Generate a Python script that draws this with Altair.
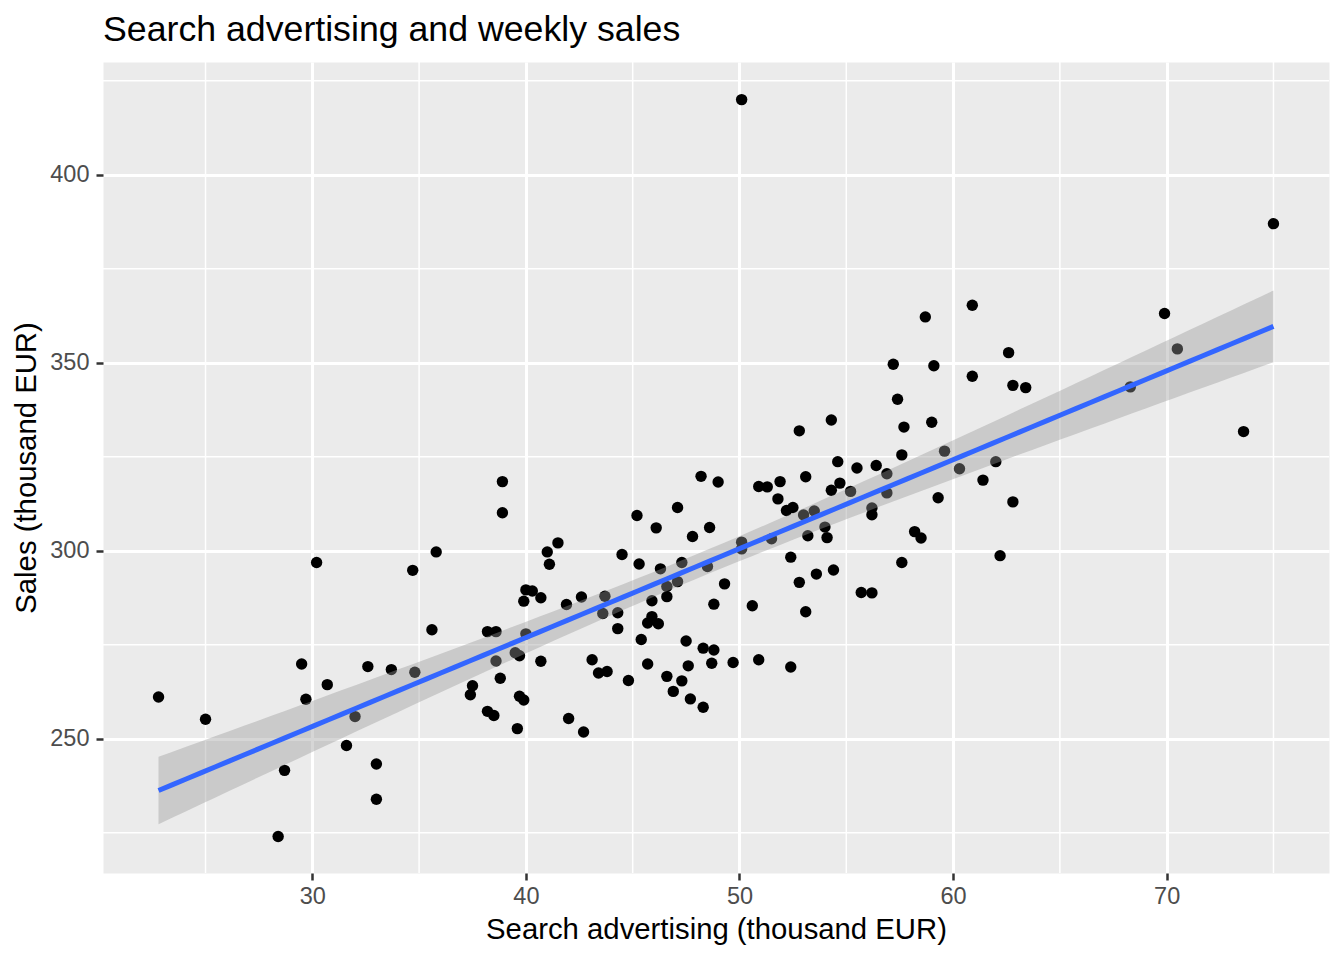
import altair as alt
import numpy as np
import pandas as pd

search_adv = [
    30.2, 34.7, 35.8, 35.6, 22.8, 25.0, 29.5, 30.7, 29.7, 32.6, 33.7, 34.8, 32.0, 31.6, 33.0, 28.7, 33.0, 28.4,
    38.9, 38.9, 41.5, 41.0, 41.1, 44.5, 40.0, 40.3, 40.7, 39.9, 41.9, 42.6, 43.7, 43.6, 44.3, 44.3, 38.2, 38.6,
    40.0, 39.5, 39.7, 38.6, 40.7, 43.1, 43.4, 43.8, 44.8, 38.8, 37.5, 37.4, 39.7, 39.9, 38.2, 38.5, 42.0, 39.6, 42.7,
    48.2, 49.0, 45.2, 47.1, 46.1, 48.6, 47.8, 50.1, 50.1, 45.3, 46.3, 47.3, 48.5, 47.1, 46.6, 49.3, 46.6, 45.9,
    48.8, 50.6, 45.9, 45.7, 46.2, 45.4, 47.5, 48.3, 48.8, 45.7, 47.6, 48.7, 49.7, 50.9, 46.6, 47.3, 46.9, 47.7, 48.3,
    52.8, 54.3, 54.6, 55.5, 56.4, 56.9, 56.9, 50.9, 51.3, 51.9, 53.1, 54.7, 54.3, 55.2, 51.8, 52.2, 52.5, 53.0,
    53.5, 56.2, 56.2, 51.5, 53.2, 54.0, 54.1, 52.4, 52.8, 53.6, 54.4, 55.7, 56.2, 53.1, 52.4,
    58.7, 60.9, 57.2, 59.1, 60.9, 62.6, 62.8, 63.4, 57.4, 57.7, 59.0, 57.6, 59.6, 60.3, 62.0, 61.4, 59.3, 62.8,
    58.2, 58.5, 57.6, 62.2,
    75.0, 69.9, 70.5, 68.3, 73.6, 50.1,
]
sales = [
    296.9, 294.8, 299.7, 279.0, 261.1, 255.2, 269.9, 264.4, 260.5, 269.2, 268.4, 267.7, 255.9, 248.2, 243.3, 241.6, 233.9, 224.0,
    318.4, 310.1, 302.1, 299.7, 296.4, 299.0, 289.6, 289.3, 287.5, 286.6, 285.7, 287.7, 287.9, 283.3, 283.5, 279.3, 278.5, 278.5,
    277.9, 272.9, 272.1, 270.7, 270.6, 271.0, 267.5, 267.9, 265.5, 266.1, 264.1, 261.7, 261.3, 260.3, 257.3, 256.2, 255.4, 252.7, 251.8,
    319.8, 318.3, 309.4, 311.5, 306.1, 306.2, 303.8, 302.3, 300.5, 296.5, 295.2, 296.9, 295.8, 291.8, 290.5, 291.2, 287.8, 286.7,
    285.8, 285.4, 282.5, 280.8, 280.6, 276.4, 276.0, 274.1, 273.6, 269.9, 269.4, 270.1, 270.3, 271.0, 266.6, 265.4, 262.6, 260.6, 258.4,
    331.9, 334.8, 323.7, 322.0, 322.7, 320.5, 315.4, 317.1, 317.0, 318.4, 319.7, 318.0, 316.1, 315.8, 313.8, 310.7, 311.5, 309.5,
    310.6, 311.4, 309.6, 303.2, 304.0, 306.3, 303.5, 298.3, 291.6, 293.8, 294.9, 288.9, 288.8, 283.8, 269.1,
    362.2, 365.3, 349.6, 349.2, 346.4, 352.7, 344.0, 343.4, 340.3, 332.9, 334.2, 325.5, 326.5, 321.8, 323.7, 318.8, 314.1, 313.0,
    305.1, 303.4, 296.9, 298.7,
    387.0, 363.1, 353.7, 343.6, 331.7, 420.0,
]

x_major = [30, 40, 50, 60, 70]
x_minor = [25, 35, 45, 55, 65, 75]
y_major = [250, 300, 350, 400]
y_minor = [225, 275, 325, 375, 425]

df = pd.DataFrame({"adv": search_adv, "sales": sales})

# linear fit with 95% confidence band (like geom_smooth(method = "lm"))
xa = np.array(search_adv)
ya = np.array(sales)
n = len(xa)
b, a = np.polyfit(xa, ya, 1)
resid = ya - (a + b * xa)
s = np.sqrt(np.sum(resid ** 2) / (n - 2))
sxx = np.sum((xa - xa.mean()) ** 2)
t = 1.976
xs = np.linspace(xa.min(), xa.max(), 80)
fit = a + b * xs
se = s * np.sqrt(1.0 / n + (xs - xa.mean()) ** 2 / sxx)
band_df = pd.DataFrame({"adv": xs, "fit": fit, "lo": fit - t * se, "hi": fit + t * se})

FONT = "Liberation Sans"
xscale = alt.Scale(domain=[20.2, 77.6], nice=False, zero=False)
yscale = alt.Scale(domain=[214.3, 430.0], nice=False, zero=False)

xaxis = alt.Axis(values=x_major, title="Search advertising (thousand EUR)", grid=True)
yaxis = alt.Axis(values=y_major, title="Sales (thousand EUR)", grid=True)

minor_x = alt.Chart(pd.DataFrame({"v": x_minor})).mark_rule(color="white", strokeWidth=1.5).encode(
    x=alt.X("v:Q", scale=xscale, axis=xaxis)
)
minor_y = alt.Chart(pd.DataFrame({"v": y_minor})).mark_rule(color="white", strokeWidth=1.5).encode(
    y=alt.Y("v:Q", scale=yscale, axis=yaxis)
)

points = alt.Chart(df).mark_circle(color="black", opacity=1, size=130).encode(
    x=alt.X("adv:Q", scale=xscale, axis=xaxis),
    y=alt.Y("sales:Q", scale=yscale, axis=yaxis),
)

band = alt.Chart(band_df).mark_area(color="#999999", opacity=0.4).encode(
    x=alt.X("adv:Q", scale=xscale, axis=xaxis),
    y=alt.Y("lo:Q", scale=yscale, axis=yaxis),
    y2="hi:Q",
)

line = alt.Chart(band_df).mark_line(color="#3366FF", strokeWidth=5).encode(
    x=alt.X("adv:Q", scale=xscale, axis=xaxis),
    y=alt.Y("fit:Q", scale=yscale, axis=yaxis),
)

chart = alt.layer(minor_x, minor_y, points, band, line).properties(
    width=1226,
    height=811,
    autosize=alt.AutoSizeParams(type="none"),
    padding={"left": 95, "top": 54, "right": 7, "bottom": 79},
    title=alt.TitleParams(
        text="Search advertising and weekly sales",
        anchor="start",
        frame="group",
        fontSize=35.7,
        font=FONT,
        fontWeight="normal",
        color="black",
        offset=13,
    ),
).configure_view(
    fill="#EBEBEB", stroke="transparent"
).configure_axis(
    gridColor="white",
    gridWidth=3,
    domain=False,
    tickColor="#333333",
    tickWidth=2.5,
    tickSize=7,
    labelFont=FONT,
    labelFontSize=23.5,
    labelColor="#4D4D4D",
    titleFont=FONT,
    titleFontSize=29.3,
    titleFontWeight="normal",
    titleColor="black",
).configure_axisX(
    labelPadding=4,
    titlePadding=8,
).configure_axisY(
    labelPadding=7,
    titlePadding=8,
)

chart.save("out.html", embed_options={"renderer": "svg", "actions": False})
